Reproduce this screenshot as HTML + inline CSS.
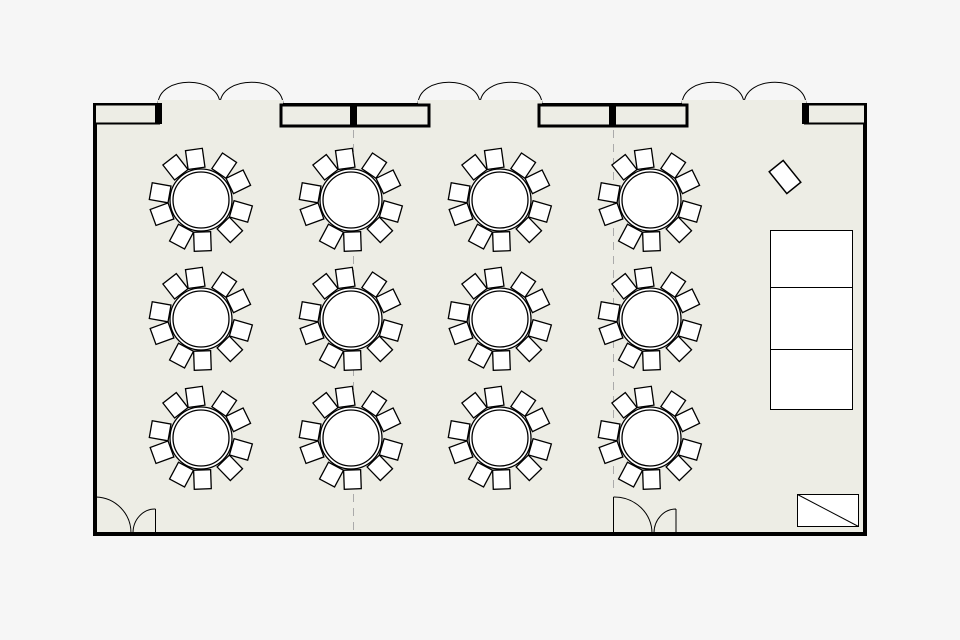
<!DOCTYPE html>
<html><head><meta charset="utf-8"><style>
html,body{margin:0;padding:0;background:#f6f6f6;}
svg{display:block}
</style></head><body>
<svg id="s" width="960" height="640" viewBox="0 0 960 640" xmlns="http://www.w3.org/2000/svg">
<rect x="0" y="0" width="960" height="640" fill="#f6f6f6"/>
<rect x="95" y="105" width="770" height="429" fill="#edede5" stroke="#000" stroke-width="4"/>
<g fill="none" stroke="#000" stroke-width="1">
<path d="M158 104 C159 75 219 75 220 104 C221 75 282 75 283 104"/>
<path d="M418 104 C419 75 479 75 480 104 C481 75 541 75 542 104"/>
<path d="M682 104 C683 75 743 75 744 104 C745 75 805 75 806 104"/>
</g>
<rect x="158" y="100" width="125" height="9" fill="#edede5"/>
<rect x="418" y="100" width="124" height="9" fill="#edede5"/>
<rect x="682" y="100" width="124" height="9" fill="#edede5"/>
<g stroke="#000" fill="#edede5">
<rect x="95" y="104.5" width="64" height="19" stroke-width="2"/>
<rect x="281" y="105" width="148" height="21" stroke-width="3"/>
<rect x="539" y="105" width="148" height="21" stroke-width="3"/>
<rect x="805" y="104.5" width="60" height="19" stroke-width="2"/>
</g>
<g fill="#000">
<rect x="155" y="103" width="7" height="21"/>
<rect x="350" y="103" width="7" height="24"/>
<rect x="609" y="103" width="7" height="24"/>
<rect x="802" y="103" width="7" height="21"/>
</g>
<g stroke="#aaa" stroke-width="1" stroke-dasharray="8,6">
<line x1="353.5" y1="130" x2="353.5" y2="532"/>
<line x1="613.5" y1="130" x2="613.5" y2="492"/>
</g>
<g fill="none" stroke="#000" stroke-width="1">
<path d="M96 497 A36 36 0 0 1 131 533"/>
<path d="M155.5 509 L155.5 533 M155.5 509 A22 24 0 0 0 133 533"/>
<path d="M613.5 497 L613.5 533 M613.5 497 A38 36 0 0 1 652 533"/>
<path d="M676 509 L676 533 M676 509 A22 24 0 0 0 654 533"/>
</g>
<rect x="771" y="168" width="28" height="18" fill="#fff" stroke="#000" stroke-width="1.5" transform="rotate(51 785 177)"/>
<g fill="#fff" stroke="#000" stroke-width="1">
<rect x="770.5" y="230.5" width="82" height="57"/>
<rect x="770.5" y="287.5" width="82" height="62"/>
<rect x="770.5" y="349.5" width="82" height="60"/>
<rect x="797.5" y="494.5" width="61" height="32"/>
<line x1="797.5" y1="494.5" x2="858.5" y2="526.5"/>
</g>
<g id="tables"></g>
</svg>
<script>
var g=document.getElementById('tables'),h='';
var xs=[201,351,500,650],ys=[200,319,438];
xs.forEach(function(cx){ys.forEach(function(cy){
for(var i=0;i<10;i++){var a=-96+i*36+(i%2?4:-2);var r=a*Math.PI/180;
var x=cx+41.5*Math.cos(r),y=cy+41.5*Math.sin(r);
h+='<rect x="'+(x-8.5)+'" y="'+(y-9.5)+'" width="17" height="19" fill="#fff" stroke="#000" stroke-width="1.3" transform="rotate('+(a+90)+' '+x+' '+y+')"/>';}
h+='<circle cx="'+cx+'" cy="'+cy+'" r="31" fill="#fff" stroke="#000" stroke-width="1.3"/>';
h+='<circle cx="'+cx+'" cy="'+cy+'" r="28" fill="#fff" stroke="#000" stroke-width="1.3"/>';
});});
g.innerHTML=h;
</script>
</body></html>
